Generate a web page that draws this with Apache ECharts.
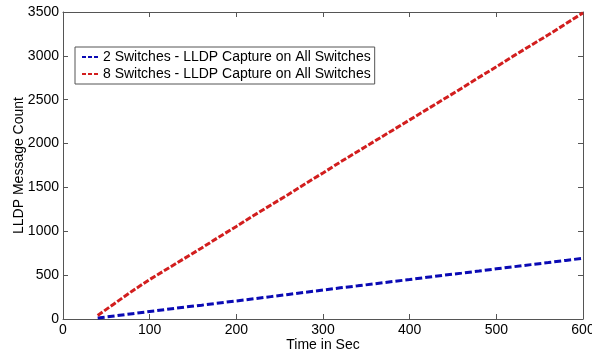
<!DOCTYPE html>
<html>
<head>
<meta charset="utf-8">
<script src="https://cdn.jsdelivr.net/npm/echarts@6/dist/echarts.min.js"></script>
<style>
html, body {margin: 0; padding: 0; background: #fff;}
#chart {width: 592px; height: 353px;}
</style>
</head>
<body>
<div id="chart"></div>
<script>
// time in seconds
var timeSec = [40, 60, 80, 100, 120, 140, 160, 180, 200, 220, 240, 260, 280, 300, 320,
    340, 360, 380, 400, 420, 440, 460, 480, 500, 520, 540, 560, 580, 600];
// 2 switches
var count2 = [12, 35, 60, 85, 110, 135, 158, 182, 206, 230, 255, 280, 305, 330, 355,
    378, 402, 427, 450, 475, 500, 523, 547, 572, 596, 620, 643, 668, 692];
// 8 switches
var count8 = [40, 180, 320, 450, 570, 690, 810, 935, 1055, 1180, 1300, 1420, 1545, 1665, 1790,
    1910, 2030, 2150, 2270, 2390, 2510, 2630, 2755, 2875, 3000, 3120, 3240, 3365, 3490];
var seriesNames = ['2 Switches - LLDP Capture on All Switches', '8 Switches - LLDP Capture on All Switches'];
var xTicks = [0, 600, 100];
var yTicks = [0, 3500, 500];

function pairs(xs, ys) {
    var out = [];
    for (var i = 0; i < xs.length; i++) {
        out.push([xs[i], ys[i]]);
    }
    return out;
}

var chart = echarts.init(document.getElementById('chart'));
var font = 'Liberation Sans, Arial, sans-serif';
var boxColor = '#555';
// three short dashes for the legend sample
var dashIcon = 'path://M0,0h4v2h-4z M6,0h4v2h-4z M12,0h4v2h-4z';

function axisBase(pos, ticks, showLabel) {
    return {
        type: 'value',
        position: pos,
        min: ticks[0],
        max: ticks[1],
        interval: ticks[2],
        splitLine: {show: false},
        axisLine: {show: true, onZero: false, lineStyle: {color: boxColor, width: 1}},
        axisTick: {show: true, inside: true, length: 5, lineStyle: {color: boxColor}},
        axisLabel: {
            show: showLabel, color: '#000', fontSize: 14, fontFamily: font, margin: 4,
            formatter: function (v) { return String(v); }
        }
    };
}

var xBottom = axisBase('bottom', xTicks, true);
xBottom.name = 'Time in Sec';
xBottom.nameLocation = 'middle';
xBottom.nameGap = 19;
xBottom.nameMoveOverlap = false;
xBottom.nameTextStyle = {color: '#000', fontSize: 14, fontFamily: font};
var xTop = axisBase('top', xTicks, false);

var yLeft = axisBase('left', yTicks, true);
yLeft.name = 'LLDP Message Count';
yLeft.nameLocation = 'middle';
yLeft.nameGap = 37;
yLeft.nameMoveOverlap = false;
yLeft.nameTextStyle = {color: '#000', fontSize: 14, fontFamily: font};
var yRight = axisBase('right', yTicks, false);

var option = {
    backgroundColor: '#fff',
    animation: false,
    grid: {left: 63, right: 9, top: 12, bottom: 34, containLabel: false, outerBoundsMode: 'none'},
    legend: {
        orient: 'vertical',
        left: 75,
        top: 47,
        padding: [3, 4, 3, 7],
        itemGap: 3,
        itemWidth: 16,
        itemHeight: 3,
        icon: dashIcon,
        backgroundColor: '#fff',
        borderColor: boxColor,
        borderWidth: 1,
        borderRadius: 0,
        textStyle: {color: '#000', fontSize: 14, fontFamily: font},
        data: seriesNames
    },
    xAxis: [xBottom, xTop],
    yAxis: [yLeft, yRight],
    series: [
        {
            name: seriesNames[0],
            type: 'line',
            symbol: 'none',
            data: pairs(timeSec, count2),
            lineStyle: {color: '#0a0ab4', width: 3, type: [7, 3]},
            itemStyle: {color: '#0a0ab4'}
        },
        {
            name: seriesNames[1],
            type: 'line',
            symbol: 'none',
            data: pairs(timeSec, count8),
            lineStyle: {color: '#d21e1e', width: 3, type: [6, 2]},
            itemStyle: {color: '#d21e1e'}
        }
    ]
};
chart.setOption(option);
</script>
</body>
</html>
